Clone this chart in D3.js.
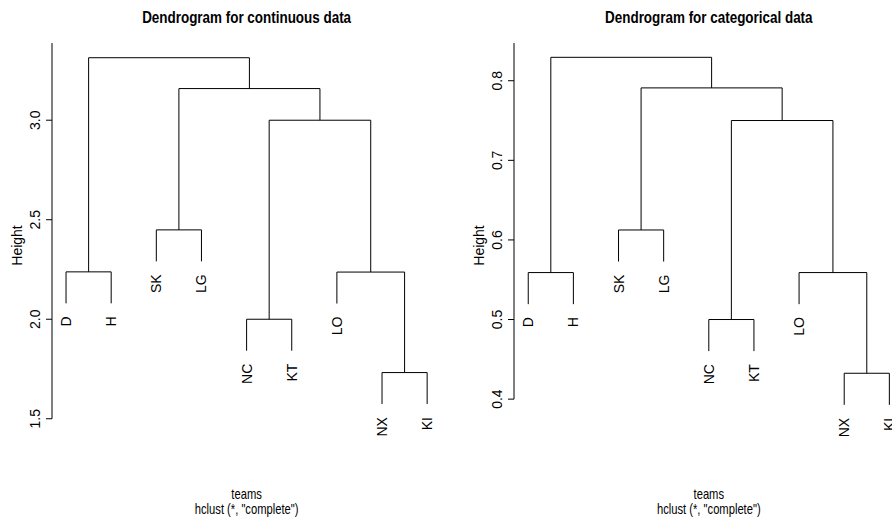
<!DOCTYPE html>
<html>
<head>
<meta charset="utf-8">
<script src="https://cdn.jsdelivr.net/npm/d3@7"></script>
<style>
  html, body { margin: 0; padding: 0; background: #fff; }
  svg { display: block; }
  text { font-family: "Liberation Sans", Arial, Helvetica, sans-serif; fill: #000; }
</style>
</head>
<body>
<svg id="chart" width="892" height="520"></svg>
<script>
// ---- data ----
const leaves = ["D", "H", "SK", "LG", "NC", "KT", "LO", "NX", "KI"];
// R-style merge list: negative = leaf (1-based), positive = earlier cluster (1-based)
const merges = [[-1, -2], [-3, -4], [-5, -6], [-8, -9], [-7, 4], [3, 5], [2, 6], [1, 7]];
const heightsContinuous = [2.238, 2.449, 2.0, 1.732, 2.237, 3.0, 3.159, 3.314];
const heightsCategorical = [0.559, 0.6125, 0.5, 0.4325, 0.559, 0.75, 0.791, 0.8294];
const ticksContinuous = [1.5, 2.0, 2.5, 3.0];
const ticksCategorical = [0.4, 0.5, 0.6, 0.7, 0.8];
const titles = ["Dendrogram for continuous data", "Dendrogram for categorical data"];
const xLabel = "teams";
const subLabel = 'hclust (*, "complete")';
const yLabel = "Height";

// ---- layout ----
const svg = d3.select("#chart");
const plotTop = 43, plotBottom = 448;
const panels = [
  { left: 51.6, right: 441.6, heights: heightsContinuous, ticks: ticksContinuous,
    yDomain: [1.353, 3.388], title: titles[0] },
  { left: 513.8, right: 903.8, heights: heightsCategorical, ticks: ticksCategorical,
    yDomain: [0.3386, 0.8474], title: titles[1] }
];
const fmt = d3.format(".1f");

panels.forEach(p => {
  const g = svg.append("g");
  const x = d3.scaleLinear().domain([0.68, leaves.length + 0.32]).range([p.left, p.right]);
  const y = d3.scaleLinear().domain(p.yDomain).range([plotBottom, plotTop]);
  const hang = 0.1 * (d3.max(p.heights) - d3.min(p.heights));

  const nodes = [];
  const leafEnds = new Array(leaves.length);
  const segs = [];
  merges.forEach((m, k) => {
    const h = p.heights[k];
    const ends = m.map(ref => {
      if (ref < 0) {
        const ye = h - hang;
        leafEnds[-ref - 1] = ye;
        return { x: -ref, y: ye };
      }
      return { x: nodes[ref - 1].x, y: nodes[ref - 1].h };
    });
    segs.push([[ends[0].x, ends[0].y], [ends[0].x, h], [ends[1].x, h], [ends[1].x, ends[1].y]]);
    nodes.push({ x: (ends[0].x + ends[1].x) / 2, h: h });
  });

  const line = d3.line().x(d => x(d[0])).y(d => y(d[1]));
  g.selectAll("path.branch").data(segs).join("path")
    .attr("class", "branch")
    .attr("d", line)
    .attr("fill", "none")
    .attr("stroke", "#000")
    .attr("stroke-width", 1);

  // leaf labels
  g.selectAll("text.leaf").data(leaves).join("text")
    .attr("class", "leaf")
    .attr("transform", (d, i) => `translate(${x(i + 1) + 5},${y(leafEnds[i]) + 13}) rotate(-90)`)
    .attr("text-anchor", "end")
    .attr("font-size", 14)
    .text(d => d);

  // y axis
  const ax = g.append("g").attr("transform", `translate(${Math.round(p.left)},0)`);
  ax.append("line")
    .attr("x1", 0).attr("x2", 0)
    .attr("y1", y(p.ticks[0])).attr("y2", plotTop)
    .attr("stroke", "#000");
  ax.selectAll("line.tick").data(p.ticks).join("line")
    .attr("class", "tick")
    .attr("x1", -6).attr("x2", 0)
    .attr("y1", d => y(d)).attr("y2", d => y(d))
    .attr("stroke", "#000");
  ax.selectAll("text.tl").data(p.ticks).join("text")
    .attr("class", "tl")
    .attr("transform", d => `translate(-12,${y(d)}) rotate(-90)`)
    .attr("text-anchor", "middle")
    .attr("font-size", 14)
    .text(d => fmt(d));

  const cx = (p.left + p.right) / 2;
  g.append("text")
    .attr("transform", `translate(${p.left - 30},${(plotTop + plotBottom) / 2}) rotate(-90)`)
    .attr("text-anchor", "middle")
    .attr("font-size", 14)
    .text(yLabel);

  g.append("text")
    .attr("transform", `translate(${cx},23) scale(0.8,1)`)
    .attr("text-anchor", "middle")
    .attr("font-size", 16.8)
    .attr("font-weight", "bold")
    .text(p.title);

  g.append("text")
    .attr("transform", `translate(${cx},499) scale(0.8,1)`)
    .attr("text-anchor", "middle")
    .attr("font-size", 14)
    .text(xLabel);
  g.append("text")
    .attr("transform", `translate(${cx},513.5) scale(0.8,1)`)
    .attr("text-anchor", "middle")
    .attr("font-size", 14)
    .text(subLabel);
});
</script>
</body>
</html>
